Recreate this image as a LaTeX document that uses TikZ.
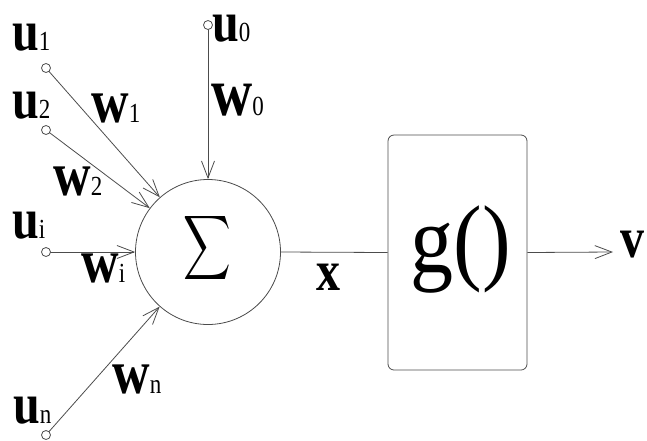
\documentclass[tikz,border=0pt]{standalone}
\usepackage{fontspec}
\setmainfont{Liberation Serif}
\usetikzlibrary{arrows.meta}
\newcommand\sublab[2]{\scalebox{1}[1.2]{\textbf{#1}{\fontsize{23}{23}\selectfont #2}}}
\newcommand\tallb[1]{\scalebox{1}[1.2]{\textbf{#1}}}
\begin{document}
\begin{tikzpicture}[x=1pt,y=-1pt,
  wire/.style={draw=black!70, line width=0.8pt},
  arr/.style={wire, -{Straight Barb[length=17pt,width=13pt,line width=0.8pt]}},
  term/.style={circle, draw=black!70, line width=0.8pt, fill=white, minimum size=9pt, inner sep=0pt},
  lab/.style={anchor=base west, inner sep=0pt, font=\fontsize{48}{48}\selectfont},
  wlab/.style={lab, font=\fontsize{52}{52}\selectfont},
]
\useasboundingbox (0,0) rectangle (647,440);
% summation unit
\node[circle, draw=black!70, line width=0.8pt, minimum size=145pt, inner sep=0pt] (sum) at (208,252) {};
\node (sig) at (207,248) {\scalebox{3.3}[4.5]{$\displaystyle\sum$}};
% activation box
\node[draw=black!70, line width=0.8pt, rounded corners=6pt, minimum width=139pt, minimum height=235pt, inner sep=0pt] (g) at (457.5,252.5) {};
\node (gtxt) at (461,249) {\scalebox{1}[1.12]{\fontsize{86}{86}\selectfont g()}};
% terminals
\coordinate (t0p) at (208,25);
\coordinate (t1p) at (46,68);
\coordinate (t2p) at (46,130);
\coordinate (tip) at (46,252);
\coordinate (tnp) at (46,435);
\coordinate (out) at (613,252);
\draw[arr] (t0p) -- (sum.north);
\draw[arr] (t1p) -- (sum);
\draw[arr] (t2p) -- (sum);
\draw[arr] (tip) -- (sum.west);
\draw[arr] (tnp) -- (sum);
\draw[wire] (sum.east) -- (g.west);
\draw[arr] (g.east) -- (out);
\node[term] (t0) at (t0p) {};
\node[term] (t1) at (t1p) {};
\node[term] (t2) at (t2p) {};
\node[term] (ti) at (tip) {};
\node[term] (tn) at (tnp) {};
% labels
\node[lab] (lu0) at (212,41) {\sublab{u}{0}};
\node[lab] (lu1) at (12,50) {\sublab{u}{1}};
\node[lab] (lu2) at (12,118) {\sublab{u}{2}};
\node[lab] (lui) at (12,238) {\sublab{u}{i}};
\node[lab] (lun) at (13,423) {\sublab{u}{n}};
\node[wlab, font=\fontsize{57}{57}\selectfont] (lw0) at (211,115) {\sublab{w}{0}};
\node[wlab] (lw1) at (91,122) {\sublab{w}{1}};
\node[wlab] (lw2) at (53,195) {\sublab{w}{2}};
\node[wlab] (lwi) at (81,282) {\sublab{w}{i}};
\node[wlab] (lwn) at (112,393) {\sublab{w}{n}};
\node[lab] (lx) at (316,290) {\tallb{x}};
\node[lab] (lv) at (620,257) {\tallb{v}};
\end{tikzpicture}
\end{document}
